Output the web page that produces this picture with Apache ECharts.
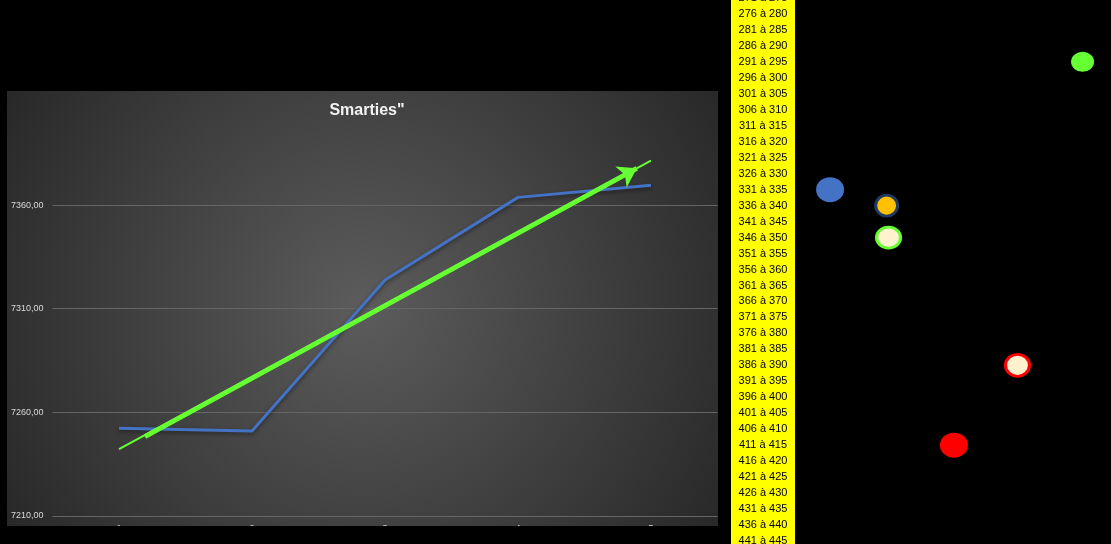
<!DOCTYPE html>
<html><head><meta charset="utf-8">
<script src="https://cdn.jsdelivr.net/npm/echarts@6/dist/echarts.min.js"></script>
<style>html,body{margin:0;padding:0;background:#000}#c{width:1111px;height:544px}</style>
</head><body><div id="c"></div>
<script>
// ---- data ----
const chartTitle = 'Smarties"';
const categories = ['1', '2', '3', '4', '5'];
const smarties = [7252.3, 7251.0, 7323.8, 7363.7, 7369.5];
const trendX = [1, 5];
const trendY = [7242.3, 7381.4];
const arrowX = [1.195, 4.893];
const arrowY = [7248.3, 7377.7];
const yMin = 7210, yMax = 7410, yStep = 50;
const rangeLabels = [
  '271 à 275','276 à 280','281 à 285','286 à 290','291 à 295','296 à 300','301 à 305',
  '306 à 310','311 à 315','316 à 320','321 à 325','326 à 330','331 à 335','336 à 340',
  '341 à 345','346 à 350','351 à 355','356 à 360','361 à 365','366 à 370','371 à 375',
  '376 à 380','381 à 385','386 à 390','391 à 395','396 à 400','401 à 405','406 à 410',
  '411 à 415','416 à 420','421 à 425','426 à 430','431 à 435','436 à 440','441 à 445'
];
const dotRows = ['291 à 295', '331 à 335', '336 à 340', '346 à 350', '386 à 390', '411 à 415'];
const dotX = [91, 11.1, 29, 29.6, 70.4, 50.3];

// ---- styles ----
const dotStyles = [
  { size: [23, 20], style: { color: '#66FF33', opacity: 1 } },
  { size: [28, 25], style: { color: '#4472C4', opacity: 1 } },
  { size: [22, 21], style: { color: '#FFC000', borderColor: '#1F3864', borderWidth: 3, opacity: 1 } },
  { size: [24, 21], style: { color: '#FFF2CC', borderColor: '#66FF33', borderWidth: 3, opacity: 1 } },
  { size: [24, 22], style: { color: '#FFF2CC', borderColor: '#FF0000', borderWidth: 3, opacity: 1 } },
  { size: [28, 25], style: { color: '#FF0000', opacity: 1 } }
];
const FONT = 'Liberation Sans';

const chart = echarts.init(document.getElementById('c'), null, { renderer: 'canvas' });
chart.setOption({
  animation: false,
  backgroundColor: '#000',
  title: {
    text: chartTitle, left: 362, top: 98, textAlign: 'center',
    textStyle: { color: '#f2f2f2', fontSize: 16, fontWeight: 'bold', fontFamily: FONT }
  },
  graphic: [
    { type: 'rect', z: -10, silent: true,
      shape: { x: 7, y: 91, width: 711, height: 435 },
      style: { fill: { type: 'radial', x: 0.5, y: 0.5, r: 1.0,
        colorStops: [{ offset: 0, color: '#5c5c5c' }, { offset: 1, color: '#262626' }] } } },
    { type: 'rect', z: 100, silent: true,
      shape: { x: 0, y: 526, width: 731, height: 18 }, style: { fill: '#000' } }
  ],
  grid: [
    { left: 52.5, right: 393.5, top: 101.4, bottom: 28, containLabel: false, outerBoundsMode: 'none' },
    { left: 731, width: 64, top: -10, height: 559, show: true, backgroundColor: '#FFFF00', borderWidth: 0, outerBoundsMode: 'none' },
    { left: 795, width: 316, top: -10, height: 559, outerBoundsMode: 'none' }
  ],
  xAxis: [
    { gridIndex: 0, type: 'category', data: categories, boundaryGap: true,
      axisLine: { show: false }, axisTick: { show: false },
      axisLabel: { color: '#d9d9d9', fontSize: 9, margin: 8, fontFamily: FONT } },
    { gridIndex: 0, type: 'value', min: 0.5, max: 5.5, show: false },
    { gridIndex: 1, type: 'value', min: 0, max: 1, show: false },
    { gridIndex: 2, type: 'value', min: 0, max: 100, show: false }
  ],
  yAxis: [
    { gridIndex: 0, type: 'value', min: yMin, max: yMax, interval: yStep,
      axisLine: { show: false }, axisTick: { show: false },
      axisLabel: { color: '#d9d9d9', fontSize: 9, margin: 9, fontFamily: FONT, showMaxLabel: false,
        formatter: v => v.toFixed(2).replace('.', ',') },
      splitLine: { show: true, showMaxLine: false, lineStyle: { color: '#666', width: 1 } } },
    { gridIndex: 1, type: 'category', data: rangeLabels, inverse: true, boundaryGap: true,
      axisLine: { show: false }, axisTick: { show: false }, splitLine: { show: false },
      axisLabel: { inside: true, margin: 32, align: 'center', color: '#000', fontSize: 11, fontFamily: FONT, interval: 0 } },
    { gridIndex: 2, type: 'category', data: rangeLabels, inverse: true, boundaryGap: true, show: false }
  ],
  series: [
    { type: 'line', xAxisIndex: 0, yAxisIndex: 0, data: smarties, showSymbol: false, symbol: 'none', z: 2,
      lineStyle: { color: '#4472C4', width: 3, shadowColor: 'rgba(0,0,0,0.45)', shadowBlur: 4, shadowOffsetY: 2 } },
    { type: 'line', xAxisIndex: 1, yAxisIndex: 0, symbol: 'none', z: 3,
      data: trendX.map((x, i) => [x, trendY[i]]),
      lineStyle: { color: '#66FF33', width: 2 } },
    { type: 'lines', coordinateSystem: 'cartesian2d', xAxisIndex: 1, yAxisIndex: 0, z: 4,
      symbol: ['none', 'arrow'], symbolSize: 18,
      lineStyle: { color: '#66FF33', width: 5, opacity: 1, curveness: 0 },
      data: [{ coords: arrowX.map((x, i) => [x, arrowY[i]]) }] },
    { type: 'scatter', xAxisIndex: 3, yAxisIndex: 2,
      data: dotRows.map((r, i) => ({ value: [dotX[i], r], symbolSize: dotStyles[i].size, itemStyle: dotStyles[i].style })) }
  ]
});
</script></body></html>
